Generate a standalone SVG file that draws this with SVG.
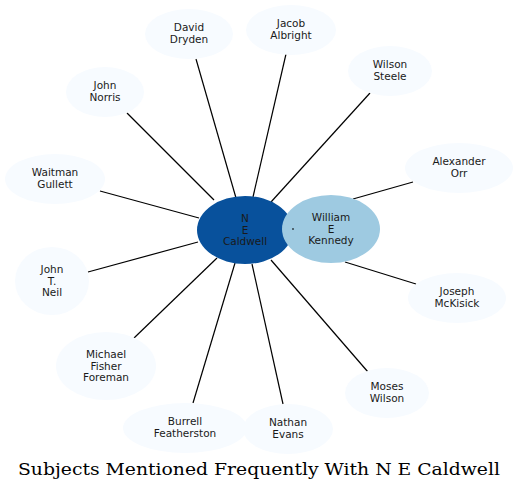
<svg xmlns="http://www.w3.org/2000/svg" width="518" height="490" viewBox="0 0 518 490">
<style>
.n ellipse{fill:#f7fbff;stroke:none}
text{font-family:"DejaVu Sans","Liberation Sans",sans-serif;font-size:10.5px;fill:#1a1a1a;text-anchor:middle}
.e line{stroke:#000;stroke-width:1.2}
.title{font-family:"DejaVu Serif","Liberation Serif",serif;font-size:17.5px;fill:#000}
</style>
<rect width="518" height="490" fill="#fff"/>
<g id="edges" class="e">
<line x1="196" y1="59" x2="236" y2="198"/>
<line x1="127" y1="113" x2="214" y2="200"/>
<line x1="100" y1="191" x2="199" y2="218"/>
<line x1="286" y1="54" x2="253" y2="197"/>
<line x1="370" y1="93" x2="271" y2="202"/>
<line x1="413" y1="182" x2="353" y2="199"/>
<line x1="88" y1="272" x2="198" y2="242"/>
<line x1="134" y1="338" x2="217" y2="258"/>
<line x1="193" y1="403" x2="235" y2="263"/>
<line x1="283" y1="404" x2="252" y2="264"/>
<line x1="368" y1="372" x2="271" y2="260"/>
<line x1="416" y1="284" x2="345" y2="262"/>
</g>
<g id="caldwell"><ellipse cx="245" cy="230" rx="48" ry="34" fill="#08519c"/><text x="245" y="222">N</text><text x="245" y="233.5">E</text><text x="245" y="245">Caldwell</text></g>
<g id="kennedy"><ellipse cx="331" cy="229" rx="49" ry="34" fill="#9ecae1"/><line x1="292" y1="229" x2="294" y2="229" stroke="#000" stroke-width="1"/><text x="331" y="221">William</text><text x="331" y="232.5">E</text><text x="331" y="244">Kennedy</text></g>
<g id="dryden" class="n"><ellipse cx="189" cy="34" rx="44" ry="25"/><text x="189" y="31">David</text><text x="189" y="42.5">Dryden</text></g>
<g id="albright" class="n"><ellipse cx="291" cy="30" rx="45" ry="25"/><text x="291" y="27">Jacob</text><text x="291" y="38.5">Albright</text></g>
<g id="steele" class="n"><ellipse cx="390" cy="71" rx="42" ry="25"/><text x="390" y="68">Wilson</text><text x="390" y="79.5">Steele</text></g>
<g id="norris" class="n"><ellipse cx="105" cy="92" rx="39" ry="25"/><text x="105" y="89">John</text><text x="105" y="100.5">Norris</text></g>
<g id="gullett" class="n"><ellipse cx="55" cy="179" rx="50" ry="25"/><text x="55" y="176">Waitman</text><text x="55" y="187.5">Gullett</text></g>
<g id="orr" class="n"><ellipse cx="459" cy="168" rx="54" ry="25"/><text x="459" y="165">Alexander</text><text x="459" y="176.5">Orr</text></g>
<g id="neil" class="n"><ellipse cx="52" cy="281" rx="37" ry="34"/><text x="52" y="273">John</text><text x="52" y="284.5">T.</text><text x="52" y="296">Neil</text></g>
<g id="mckisick" class="n"><ellipse cx="457" cy="298" rx="49" ry="25"/><text x="457" y="295">Joseph</text><text x="457" y="306.5">McKisick</text></g>
<g id="foreman" class="n"><ellipse cx="106" cy="366" rx="50" ry="34"/><text x="106" y="358">Michael</text><text x="106" y="369.5">Fisher</text><text x="106" y="381">Foreman</text></g>
<g id="mwilson" class="n"><ellipse cx="387" cy="393" rx="42" ry="25"/><text x="387" y="390">Moses</text><text x="387" y="401.5">Wilson</text></g>
<g id="featherston" class="n"><ellipse cx="185" cy="428" rx="62" ry="25"/><text x="185" y="425">Burrell</text><text x="185" y="436.5">Featherston</text></g>
<g id="evans" class="n"><ellipse cx="288" cy="429" rx="45" ry="25"/><text x="288" y="426">Nathan</text><text x="288" y="437.5">Evans</text></g>
<text class="title" x="259" y="475" textLength="482" lengthAdjust="spacingAndGlyphs">Subjects Mentioned Frequently With N E Caldwell</text>
</svg>
